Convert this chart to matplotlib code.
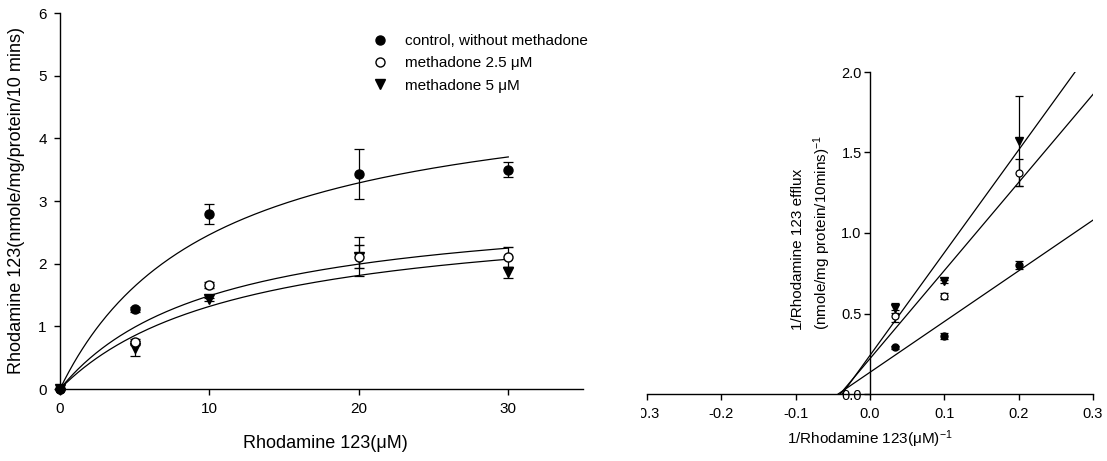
import numpy as np
import matplotlib
matplotlib.use("Agg")
import matplotlib.pyplot as plt
from matplotlib.patches import Rectangle
from matplotlib.lines import Line2D

plt.rcParams['font.family'] = ['Liberation Sans', 'DejaVu Sans']
plt.rcParams['mathtext.fontset'] = 'custom'
plt.rcParams['mathtext.rm'] = 'Liberation Sans'
plt.rcParams['mathtext.it'] = 'Liberation Sans'
plt.rcParams['axes.unicode_minus'] = False

# ---------------- data: left panel (Michaelis-Menten) ----------------
conc = [0, 5, 10, 20, 30]
ctrl_v = [0, 1.27, 2.79, 3.43, 3.50]
ctrl_e = [0, 0.04, 0.16, 0.40, 0.12]
m25_v = [0, 0.75, 1.66, 2.11, 2.11]
m25_e = [0, 0.04, 0.05, 0.18, 0.16]
m5_v = [0, 0.65, 1.43, 2.11, 1.86]
m5_e = [0, 0.12, 0.03, 0.31, 0.09]

# fitted hyperbola parameters (Vmax, Km)
fit_ctrl = (4.95, 10.1)
fit_m25 = (3.02, 10.3)
fit_m5 = (2.90, 12.0)

left_xticks = [0, 10, 20, 30]
left_yticks = [0, 1, 2, 3, 4, 5, 6]

# ---------------- data: right panel (Lineweaver-Burk) ----------------
inv_conc = [0.0333, 0.1, 0.2]
inv_ctrl_v = [0.29, 0.36, 0.80]
inv_ctrl_e = [0.01, 0.02, 0.025]
inv_m25_v = [0.485, 0.61, 1.375]
inv_m25_e = [0.035, 0.02, 0.085]
inv_m5_v = [0.535, 0.70, 1.57]
inv_m5_e = [0.03, 0.01, 0.28]

# regression lines (slope, intercept)
lb_ctrl = (3.15, 0.135)
lb_m25 = (5.47, 0.22)
lb_m5 = (6.38, 0.24)

right_xticks = [-0.3, -0.2, -0.1, 0.0, 0.1, 0.2, 0.3]
right_xticklabels = ['-0.3', '-0.2', '-0.1', '0.0', '0.1', '0.2', '0.3']
right_yticks = [0.0, 0.5, 1.0, 1.5, 2.0]
right_yticklabels = ['0.0', '0.5', '1.0', '1.5', '2.0']

labels = ['control, without methadone', 'methadone 2.5 \u03bcM', 'methadone 5 \u03bcM']

W, H = 1107, 461
fig = plt.figure(figsize=(W / 100, H / 100), dpi=100)

# ---------------- left axes ----------------
ax1 = fig.add_axes([60 / W, (H - 389) / H, 523 / W, 376 / H])
lw = 0.9
xs = np.linspace(0, 30, 300)
for vmax, km in (fit_ctrl, fit_m25, fit_m5):
    ax1.plot(xs, vmax * xs / (km + xs), color='black', lw=lw, zorder=2)

ebkw = dict(ecolor='black', elinewidth=lw, capsize=3.6, capthick=lw, linestyle='none', zorder=3)
ax1.errorbar(conc, m5_v, yerr=m5_e, marker='v', ms=7, mfc='black', mec='black', **ebkw)
ax1.errorbar(conc, m25_v, yerr=m25_e, marker='o', ms=6.5, mfc='white', mec='black', mew=1.0, **ebkw)
ax1.errorbar(conc, ctrl_v, yerr=ctrl_e, marker='o', ms=6.5, mfc='black', mec='black', **ebkw)

ax1.set_xlim(0, 35)
ax1.set_ylim(0, 6)
ax1.set_xticks(left_xticks)
ax1.set_yticks(left_yticks)
for s in ('top', 'right'):
    ax1.spines[s].set_visible(False)
for s in ('left', 'bottom'):
    ax1.spines[s].set_linewidth(1.0)
ax1.tick_params(direction='out', length=4.5, width=1.0, labelsize=11, pad=5)
for art in ax1.lines + ax1.collections:
    art.set_clip_on(False)

fig.text(325 / W, (H - 443) / H, 'Rhodamine 123(\u03bcM)', ha='center', va='center', fontsize=13)
fig.text(17 / W, (H - 200) / H, 'Rhodamine 123(nmole/mg/protein/10 mins)', ha='center', va='center',
         rotation=90, fontsize=13)

handles = [
    Line2D([], [], marker='o', ls='none', ms=6.5, mfc='black', mec='black'),
    Line2D([], [], marker='o', ls='none', ms=6.5, mfc='white', mec='black', mew=1.0),
    Line2D([], [], marker='v', ls='none', ms=7, mfc='black', mec='black'),
]
ax1.legend(handles, labels, loc='upper left', bbox_to_anchor=(371 / W, (H - 34) / H),
           bbox_transform=fig.transFigure, frameon=False, fontsize=11,
           handlelength=1.2, handletextpad=1.0, labelspacing=0.55, borderpad=0, borderaxespad=0)

# ---------------- right axes ----------------
ax2 = fig.add_axes([647 / W, (H - 394) / H, 446 / W, 322 / H])
for m, b in (lb_ctrl, lb_m25, lb_m5):
    x0 = -b / m
    xl = np.array([x0, 0.3])
    ax2.plot(xl, m * xl + b, color='black', lw=lw, zorder=2)

ebkw2 = dict(ecolor='black', elinewidth=lw, capsize=2.6, capthick=lw, linestyle='none', zorder=3)
ax2.errorbar(inv_conc, inv_m5_v, yerr=inv_m5_e, marker='v', ms=5.5, mfc='black', mec='black', **ebkw2)
ax2.errorbar(inv_conc, inv_m25_v, yerr=inv_m25_e, marker='o', ms=5, mfc='white', mec='black', mew=0.9, **ebkw2)
ax2.errorbar(inv_conc, inv_ctrl_v, yerr=inv_ctrl_e, marker='o', ms=5, mfc='black', mec='black', **ebkw2)

ax2.set_xlim(-0.3, 0.3)
ax2.set_ylim(0, 2.0)
ax2.set_xticks(right_xticks)
ax2.set_xticklabels(right_xticklabels)
ax2.set_yticks(right_yticks)
ax2.set_yticklabels(right_yticklabels)
for s in ('top', 'right'):
    ax2.spines[s].set_visible(False)
ax2.spines['left'].set_position(('data', 0))
for s in ('left', 'bottom'):
    ax2.spines[s].set_linewidth(1.0)
ax2.tick_params(direction='out', length=4, width=1.0, labelsize=10.5)
ax2.tick_params(axis='x', pad=5)
ax2.tick_params(axis='y', pad=2)
ax2.patch.set_visible(False)

fig.text(870 / W, (H - 439) / H, '1/Rhodamine 123(\u03bcM)$^{-1}$', ha='center', va='center', fontsize=11)
fig.text(812 / W, (H - 330) / H, '1/Rhodamine 123 efflux\n(nmole/mg protein/10mins)$^{-1}$',
         ha='center', va='bottom', rotation=90, multialignment='left', fontsize=11,
         linespacing=1.4)

# the reference picture is cropped just left of x = 641 px
fig.add_artist(Rectangle((590 / W, (H - 425) / H), 51 / W, 30 / H, transform=fig.transFigure,
                         facecolor='white', edgecolor='none', zorder=10))

fig.savefig('out.png', dpi=100)
